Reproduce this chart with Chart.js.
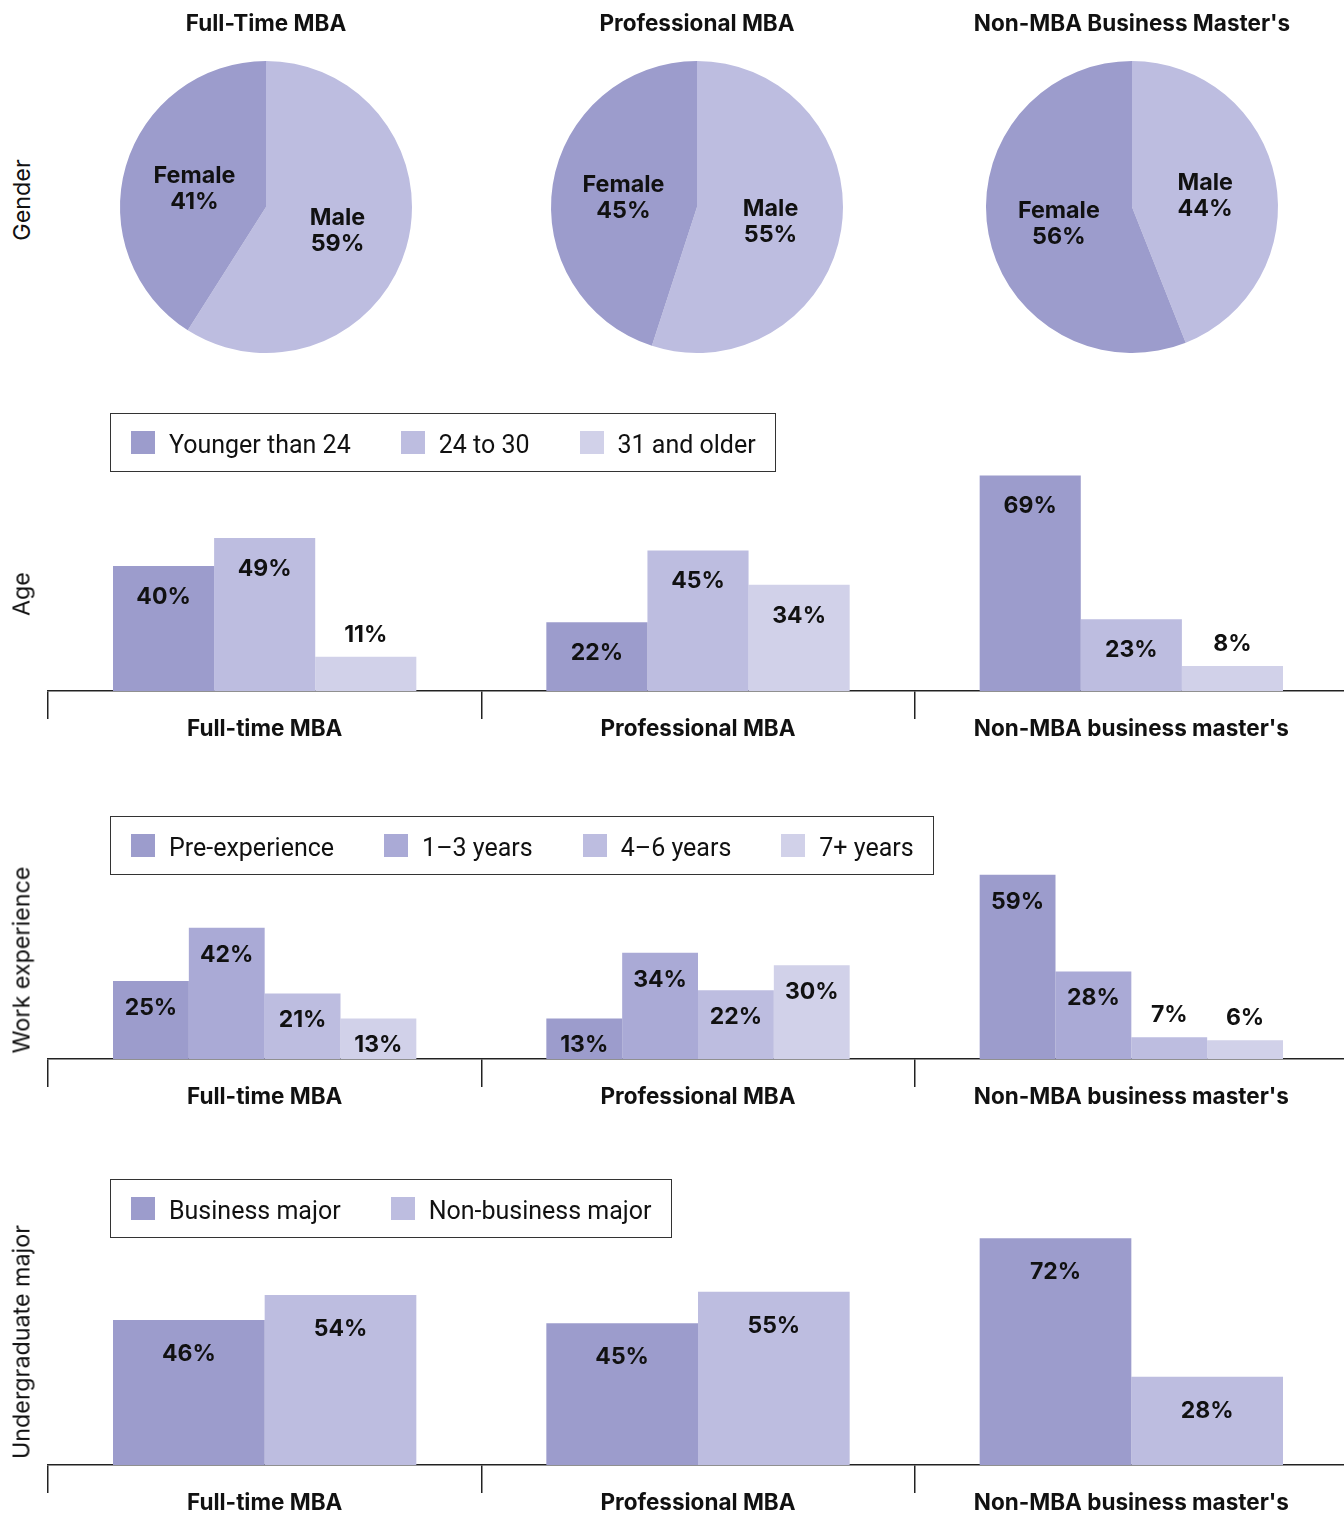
<!DOCTYPE html>
<html>
<head>
<meta charset="utf-8">
<script src="https://cdn.jsdelivr.net/npm/chart.js@4.4.1/dist/chart.umd.min.js"></script>
<style>
  html, body { margin: 0; padding: 0; background: #fff; }
  body { width: 1344px; height: 1513px; overflow: hidden; position: relative; font-family: Inter, sans-serif; }
  canvas { position: absolute; }
  .rowtitle { position: absolute; left: 21px; transform: translate(-50%, -50%) rotate(-90deg); white-space: nowrap; font: 400 23.3px Inter, sans-serif; color: #111; }
  .legend { position: absolute; left: 110px; height: 59px; border: 1.5px solid #333; display: flex; align-items: center; padding: 0 19px 0 20px; box-sizing: border-box; font: 400 25px Roboto, sans-serif; color: #111; }
  .legend .item { display: flex; align-items: center; margin-right: 50px; }
  .legend .item:last-child { margin-right: 0; }
  .legend .item span { position: relative; top: 2px; }
  .legend .sw { width: 24px; height: 23px; margin-right: 14px; }
</style>
</head>
<body>
<script>
// ---- data ----
const pieTitles = ['Full-Time MBA', 'Professional MBA', "Non-MBA Business Master's"];
const genderLabels = ['Male', 'Female'];
const malePct = [59, 55, 44];
const femalePct = [41, 45, 56];

const programs = ['Full-time MBA', 'Professional MBA', "Non-MBA business master's"];

const ageGroups = ['Younger than 24', '24 to 30', '31 and older'];
const ageYounger = [40, 22, 69];
const age24to30 = [49, 45, 23];
const age31plus = [11, 34, 8];

const expGroups = ['Pre-experience', '1–3 years', '4–6 years', '7+ years'];
const expPre = [25, 13, 59];
const exp1to3 = [42, 34, 28];
const exp4to6 = [21, 22, 7];
const exp7plus = [13, 30, 6];

const majorGroups = ['Business major', 'Non-business major'];
const majorBusiness = [46, 45, 72];
const majorNonBusiness = [54, 55, 28];

// ---- colours ----
const dark = '#9c9ccc';
const mid = '#aaaad6';
const light = '#bdbde0';
const pale = '#d1d1e9';
const ink = '#111';
const boldFont = { family: 'Inter', size: 22.5, weight: '700' };

// draws the % labels on the bars
const valueLabels = {
  id: 'valueLabels',
  afterDatasetsDraw(chart, args, opts) {
    const ctx = chart.ctx;
    ctx.save();
    ctx.font = '700 23px Inter';
    ctx.fillStyle = ink;
    ctx.textAlign = 'center';
    ctx.textBaseline = 'middle';
    chart.data.datasets.forEach((ds, i) => {
      chart.getDatasetMeta(i).data.forEach((bar, j) => {
        const v = ds.data[j];
        const y = v <= 11 ? bar.y - 22 : bar.y + opts.inset;
        ctx.fillText(v + '%', bar.x, y);
      });
    });
    ctx.restore();
  }
};

// draws "Female / 41%" inside the slices
const sliceLabels = {
  id: 'sliceLabels',
  afterDatasetsDraw(chart) {
    const ctx = chart.ctx;
    ctx.save();
    ctx.font = '700 23.3px Inter';
    ctx.fillStyle = ink;
    ctx.textAlign = 'center';
    ctx.textBaseline = 'middle';
    const ds = chart.data.datasets[0];
    chart.getDatasetMeta(0).data.forEach((arc, j) => {
      const a = (arc.startAngle + arc.endAngle) / 2;
      const r = arc.outerRadius * 0.51;
      const x = arc.x + Math.cos(a) * r;
      const y = arc.y + Math.sin(a) * r + 3;
      ctx.fillText(chart.data.labels[j], x, y - 13);
      ctx.fillText(ds.data[j] + '%', x, y + 13);
    });
    ctx.restore();
  }
};

function addCanvas(left, top, w, h) {
  const c = document.createElement('canvas');
  c.width = w;
  c.height = h;
  c.style.left = left + 'px';
  c.style.top = top + 'px';
  document.body.appendChild(c);
  return c;
}

function addRowTitle(text, y) {
  const d = document.createElement('div');
  d.className = 'rowtitle';
  d.style.top = y + 'px';
  d.textContent = text;
  document.body.appendChild(d);
}

function addLegend(top, labels, colors) {
  const box = document.createElement('div');
  box.className = 'legend';
  box.style.top = top + 'px';
  labels.forEach((l, i) => {
    const item = document.createElement('div');
    item.className = 'item';
    const sw = document.createElement('div');
    sw.className = 'sw';
    sw.style.background = colors[i];
    const t = document.createElement('span');
    t.textContent = l;
    item.appendChild(sw);
    item.appendChild(t);
    box.appendChild(item);
  });
  document.body.appendChild(box);
}

// ---- gender pies ----
const pieCenters = [266, 697, 1132];
pieTitles.forEach((title, i) => {
  const c = addCanvas(pieCenters[i] - 215, 0, 430, 360);
  new Chart(c, {
    type: 'pie',
    data: {
      labels: genderLabels,
      datasets: [{
        data: [malePct[i], femalePct[i]],
        backgroundColor: [light, dark],
        borderWidth: 0
      }]
    },
    options: {
      responsive: false,
      animation: false,
      layout: { padding: { bottom: 7 } },
      plugins: {
        legend: { display: false },
        tooltip: { enabled: false },
        title: { display: true, text: title, color: ink, font: boldFont, padding: { top: 11, bottom: 23 } }
      }
    },
    plugins: [sliceLabels]
  });
});
addRowTitle('Gender', 200);

// ---- bar rows ----
function barRow(baseline, pxPerPct, groups, series, colors, inset) {
  const yMax = 80;
  const area = yMax * pxPerPct;
  const top = baseline - area - 10;
  const c = addCanvas(0, top, 1360, 10 + area + 70);
  new Chart(c, {
    type: 'bar',
    data: {
      labels: programs,
      datasets: series.map((d, i) => ({
        label: groups[i],
        data: d,
        backgroundColor: colors[i],
        borderWidth: 0,
        categoryPercentage: 0.7,
        barPercentage: 1
      }))
    },
    options: {
      responsive: false,
      animation: false,
      layout: { padding: { left: 48, right: 12, top: 10, bottom: 0 } },
      scales: {
        x: {
          grid: { display: true, offset: true, drawOnChartArea: false, drawTicks: true, tickLength: 28, color: '#222', lineWidth: 1.5 },
          border: { display: true, color: '#222', width: 1.5 },
          ticks: { color: ink, font: boldFont, padding: -3 },
          afterFit: s => { s.height = 70; }
        },
        y: { display: false, min: 0, max: yMax }
      },
      plugins: {
        legend: { display: false },
        tooltip: { enabled: false },
        valueLabels: { inset: inset }
      }
    },
    plugins: [valueLabels]
  });
}

barRow(691, 3.125, ageGroups, [ageYounger, age24to30, age31plus], [dark, light, pale], 31);
addLegend(413, ageGroups, [dark, light, pale]);
addRowTitle('Age', 594);

barRow(1059, 3.125, expGroups, [expPre, exp1to3, exp4to6, exp7plus], [dark, mid, light, pale], 27);
addLegend(816, expGroups, [dark, mid, light, pale]);
addRowTitle('Work experience', 960);

barRow(1465, 3.15, majorGroups, [majorBusiness, majorNonBusiness], [dark, light], 34);
addLegend(1179, majorGroups, [dark, light]);
addRowTitle('Undergraduate major', 1342);
</script>
</body>
</html>
